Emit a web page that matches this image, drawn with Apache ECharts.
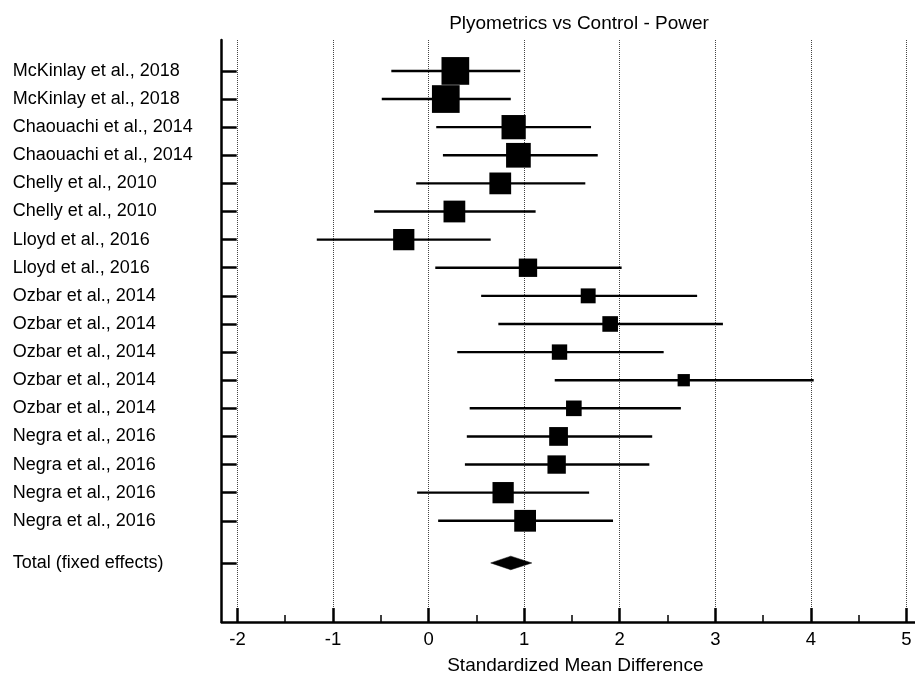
<!DOCTYPE html>
<html>
<head>
<meta charset="utf-8">
<title>Plyometrics vs Control - Power</title>
<script src="https://cdn.jsdelivr.net/npm/echarts@6/dist/echarts.min.js"></script>
<style>
  html, body { margin: 0; padding: 0; background: #fff; }
  #chart { width: 915px; height: 680px; }
</style>
</head>
<body>
<div id="chart"></div>
<script>
// Study labels, top to bottom
const studies = [
  'McKinlay et al., 2018', 'McKinlay et al., 2018',
  'Chaouachi et al., 2014', 'Chaouachi et al., 2014',
  'Chelly et al., 2010', 'Chelly et al., 2010',
  'Lloyd et al., 2016', 'Lloyd et al., 2016',
  'Ozbar et al., 2014', 'Ozbar et al., 2014', 'Ozbar et al., 2014',
  'Ozbar et al., 2014', 'Ozbar et al., 2014',
  'Negra et al., 2016', 'Negra et al., 2016', 'Negra et al., 2016', 'Negra et al., 2016'
];
// Standardized mean difference with 95% CI
const smd     = [0.28, 0.18, 0.89, 0.94, 0.75, 0.27, -0.26, 1.04, 1.67, 1.90, 1.37, 2.67, 1.52, 1.36, 1.34, 0.78, 1.01];
const ciLow   = [-0.39, -0.49, 0.08, 0.15, -0.13, -0.57, -1.17, 0.07, 0.55, 0.73, 0.30, 1.32, 0.43, 0.40, 0.38, -0.12, 0.10];
const ciHigh  = [0.96, 0.86, 1.70, 1.77, 1.64, 1.12, 0.65, 2.02, 2.81, 3.08, 2.46, 4.03, 2.64, 2.34, 2.31, 1.68, 1.93];
// Relative weight (%) of each study
const weights = [10.7, 10.7, 8.2, 8.5, 6.6, 6.6, 6.3, 4.7, 3.1, 3.4, 3.3, 2.1, 3.4, 4.9, 4.7, 6.3, 6.6];
// Pooled estimate
const totalLabel = 'Total (fixed effects)';
const total = { smd: 0.86, low: 0.65, high: 1.08 };
// Axis ticks
const xMajorTicks = [-2, -1, 0, 1, 2, 3, 4, 5];
const xMinorTicks = [-1.5, -0.5, 0.5, 1.5, 2.5, 3.5, 4.5];

// Row positions on the vertical axis (pooled row sits 1.5 rows below the last study)
const rows = studies.map((_, i) => i + 1);
const totalRow = rows.length + 1.5;
const rowTicks = rows.concat([totalRow]);
const rowLabels = studies.concat([totalLabel]);

const FONT = '"Liberation Sans", Arial, sans-serif';

const chart = echarts.init(document.getElementById('chart'), null, { renderer: 'canvas' });

chart.setOption({
  animation: false,
  backgroundColor: '#fff',
  title: {
    text: 'Plyometrics vs Control - Power',
    left: 574,
    top: 9,
    textAlign: 'center',
    textStyle: { fontFamily: FONT, fontSize: 19, fontWeight: 'normal', color: '#000' }
  },
  grid: { left: 221.7, right: 0, top: 40, bottom: 54, containLabel: false },
  xAxis: [
    {
      type: 'value',
      position: 'bottom',
      min: -2.165,
      max: 5.09,
      name: 'Standardized Mean Difference',
      nameLocation: 'middle',
      nameGap: 34,
      nameTextStyle: { fontFamily: FONT, fontSize: 19, color: '#000', padding: [0, 0, 0, 14] },
      axisLine: { show: true, onZero: false, lineStyle: { color: '#000', width: 2.5 } },
      axisTick: {
        show: true, inside: true, length: 14,
        customValues: xMajorTicks,
        lineStyle: { color: '#000', width: 2.5 }
      },
      axisLabel: {
        show: true, margin: 8,
        customValues: xMajorTicks,
        fontFamily: FONT, fontSize: 18.5, color: '#000',
        formatter: v => String(v)
      },
      splitLine: { show: true, lineStyle: { color: '#444', width: 1, type: [1, 1] } }
    },
    {
      type: 'value',
      position: 'bottom',
      min: -2.165,
      max: 5.09,
      axisLine: { show: false, onZero: false },
      axisTick: {
        show: true, inside: true, length: 7,
        customValues: xMinorTicks,
        lineStyle: { color: '#000', width: 1.5 }
      },
      axisLabel: { show: false },
      splitLine: { show: false }
    }
  ],
  yAxis: {
    type: 'value',
    inverse: true,
    min: -0.1,
    max: 20.6,
    axisLine: { show: true, onZero: false, lineStyle: { color: '#000', width: 2.5 } },
    axisTick: {
      show: true, inside: true, length: 15,
      customValues: rowTicks,
      lineStyle: { color: '#000', width: 2.5 }
    },
    axisLabel: {
      show: true,
      customValues: rowTicks,
      align: 'left',
      margin: 209,
      fontFamily: FONT, fontSize: 18, color: '#000',
      formatter: v => rowLabels[rowTicks.indexOf(v)] || ''
    },
    splitLine: { show: false }
  },
  series: [
    {
      // Confidence interval whiskers
      type: 'custom',
      xAxisIndex: 0,
      encode: { x: [0, 1], y: 2 },
      data: studies.map((_, i) => [ciLow[i], ciHigh[i], rows[i]]),
      renderItem: (params, api) => {
        const a = api.coord([api.value(0), api.value(2)]);
        const b = api.coord([api.value(1), api.value(2)]);
        return {
          type: 'line',
          shape: { x1: a[0], y1: a[1], x2: b[0], y2: b[1] },
          style: { stroke: '#000', lineWidth: 2.4 }
        };
      },
      z: 2
    },
    {
      // Study point estimates, square area proportional to weight
      type: 'scatter',
      xAxisIndex: 0,
      symbol: 'rect',
      symbolSize: (val, p) => Math.sqrt(weights[p.dataIndex]) * 8.47,
      itemStyle: { color: '#000', opacity: 1 },
      data: studies.map((_, i) => [smd[i], rows[i]]),
      z: 3
    },
    {
      // Pooled estimate diamond
      type: 'custom',
      xAxisIndex: 0,
      encode: { x: [0, 1, 2], y: 3 },
      data: [[total.low, total.smd, total.high, totalRow]],
      renderItem: (params, api) => {
        const y = api.value(3);
        const l = api.coord([api.value(0), y]);
        const c = api.coord([api.value(1), y]);
        const r = api.coord([api.value(2), y]);
        const h = 6.8;
        return {
          type: 'polygon',
          shape: { points: [[l[0], l[1]], [c[0], c[1] - h], [r[0], r[1]], [c[0], c[1] + h]] },
          style: { fill: '#000', stroke: '#000', lineWidth: 0.5 }
        };
      },
      z: 3
    }
  ]
});
</script>
</body>
</html>
